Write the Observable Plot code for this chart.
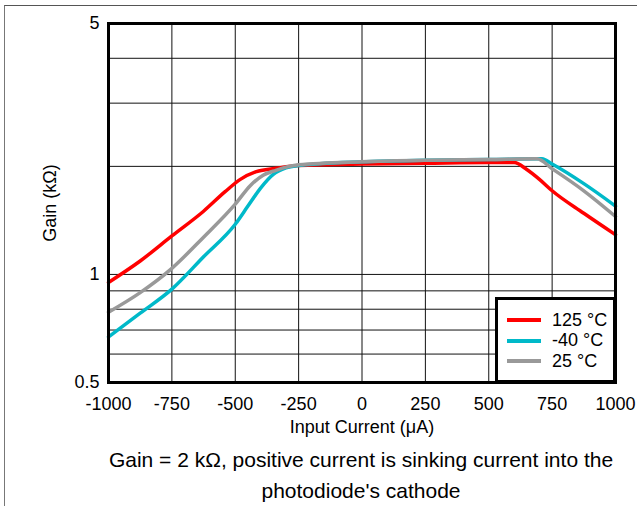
<!DOCTYPE html>
<html>
<head>
<meta charset="utf-8">
<script src="https://cdn.jsdelivr.net/npm/d3@7"></script>
<script src="https://cdn.jsdelivr.net/npm/@observablehq/plot@0.6"></script>
<style>
  body { margin: 0; background: #fff; font-family: "Liberation Sans", Arial, sans-serif; }
  #wrap { position: relative; width: 637px; height: 506px; overflow: hidden; }
  #border { position: absolute; left: 4px; top: 5px; width: 640px; height: 520px; border-top: 1px solid #555; border-left: 1px solid #777; }
  #chart { position: absolute; left: 0; top: 0; }
  #chart svg g[aria-label="x-axis label"] { font-size: 18px; }
  #ylabel { position: absolute; left: 50px; top: 203px; transform: translate(-50%, -50%) rotate(-90deg); white-space: nowrap; font-size: 18px; color: #000; line-height: 1; }
  #legend { position: absolute; left: 495px; top: 297px; width: 121px; height: 86px; box-sizing: border-box; border: 3px solid #000; background: #fff; font-size: 18px; color: #000; }
  .row { position: absolute; left: 9px; height: 20px; display: flex; align-items: center; }
  .sw { width: 34px; height: 4px; margin-right: 11px; }
  #caption { position: absolute; left: 0px; width: 722px; top: 444px; text-align: center; font-size: 21px; line-height: 31px; color: #000; }
</style>
</head>
<body>
<div id="wrap">
  <div id="border"></div>
  <div id="chart"></div>
  <div id="ylabel">Gain (kΩ)</div>
  <div id="legend"></div>
  <div id="caption">Gain = 2 kΩ, positive current is sinking current into the<br>photodiode's cathode</div>
</div>
<script>
// ---- data ----
const seriesNames = ["125 °C", "-40 °C", "25 °C"];
const seriesColors = ["#ff0000", "#00b9c9", "#999999"];

const current125 = [-1000, -875, -750, -625, -540, -480, -420, -330, -250, 0, 250, 500, 600, 650, 700, 750, 875, 1000];
const gain125    = [0.95, 1.09, 1.28, 1.50, 1.70, 1.84, 1.93, 1.98, 2.01, 2.03, 2.04, 2.05, 2.05, 1.96, 1.84, 1.71, 1.48, 1.29];

const currentM40 = [-1000, -875, -750, -625, -500, -450, -400, -350, -300, -250, 0, 250, 500, 710, 750, 875, 1000];
const gainM40    = [0.67, 0.78, 0.91, 1.12, 1.38, 1.55, 1.74, 1.90, 1.98, 2.01, 2.06, 2.08, 2.09, 2.10, 2.03, 1.79, 1.55];

const current25 = [-1000, -875, -750, -625, -500, -440, -390, -340, -250, 0, 250, 500, 690, 750, 875, 1000];
const gain25    = [0.785, 0.89, 1.04, 1.27, 1.57, 1.77, 1.89, 1.95, 2.02, 2.06, 2.08, 2.09, 2.10, 1.97, 1.71, 1.45];

const xTicks = [-1000, -750, -500, -250, 0, 250, 500, 750, 1000];
const yTickLabels = [0.5, 1, 5];
const yGrid = [0.6, 0.7, 0.8, 0.9, 1, 2, 3, 4];

// ---- build table ----
const seriesX = [current125, currentM40, current25];
const seriesY = [gain125, gainM40, gain25];
const rows = [];
seriesNames.forEach((name, i) => {
  seriesX[i].forEach((x, j) => rows.push({series: name, current: x, gain: seriesY[i][j]}));
});

const font = '"Liberation Sans", Arial, sans-serif';

const chart = Plot.plot({
  width: 637,
  height: 440,
  marginLeft: 108,
  marginRight: 22,
  marginTop: 23,
  marginBottom: 58,
  style: {fontFamily: font, fontSize: "18px", color: "#000", background: "transparent", overflow: "visible"},
  x: {domain: [-1000, 1000]},
  y: {type: "log", domain: [0.5, 5]},
  color: {domain: seriesNames, range: seriesColors},
  marks: [
    Plot.ruleX(xTicks, {stroke: "#111", strokeWidth: 1}),
    Plot.ruleY(yGrid, {stroke: "#111", strokeWidth: 1}),
    Plot.line(rows, {x: "current", y: "gain", z: "series", stroke: "series", strokeWidth: 3.5, curve: "monotone-x"}),
    Plot.frame({stroke: "#000", strokeWidth: 3}),
    Plot.axisX({ticks: xTicks, tickSize: 0, tickPadding: 15, tickFormat: d => String(d), fontSize: 18,
      label: "Input Current (μA)", labelAnchor: "center", labelArrow: "none", labelOffset: 50}),
    Plot.axisY({ticks: yTickLabels, tickSize: 0, tickPadding: 9, tickFormat: d => String(d), fontSize: 18, label: null})
  ]
});
document.getElementById("chart").appendChild(chart);

// ---- legend ----
const legend = document.getElementById("legend");
const rowTops = [10, 30.5, 51];
seriesNames.forEach((name, i) => {
  const r = document.createElement("div");
  r.className = "row";
  r.style.top = rowTops[i] + "px";
  const sw = document.createElement("span");
  sw.className = "sw";
  sw.style.background = seriesColors[i];
  const t = document.createElement("span");
  t.textContent = name;
  r.appendChild(sw); r.appendChild(t);
  legend.appendChild(r);
});
</script>
</body>
</html>
